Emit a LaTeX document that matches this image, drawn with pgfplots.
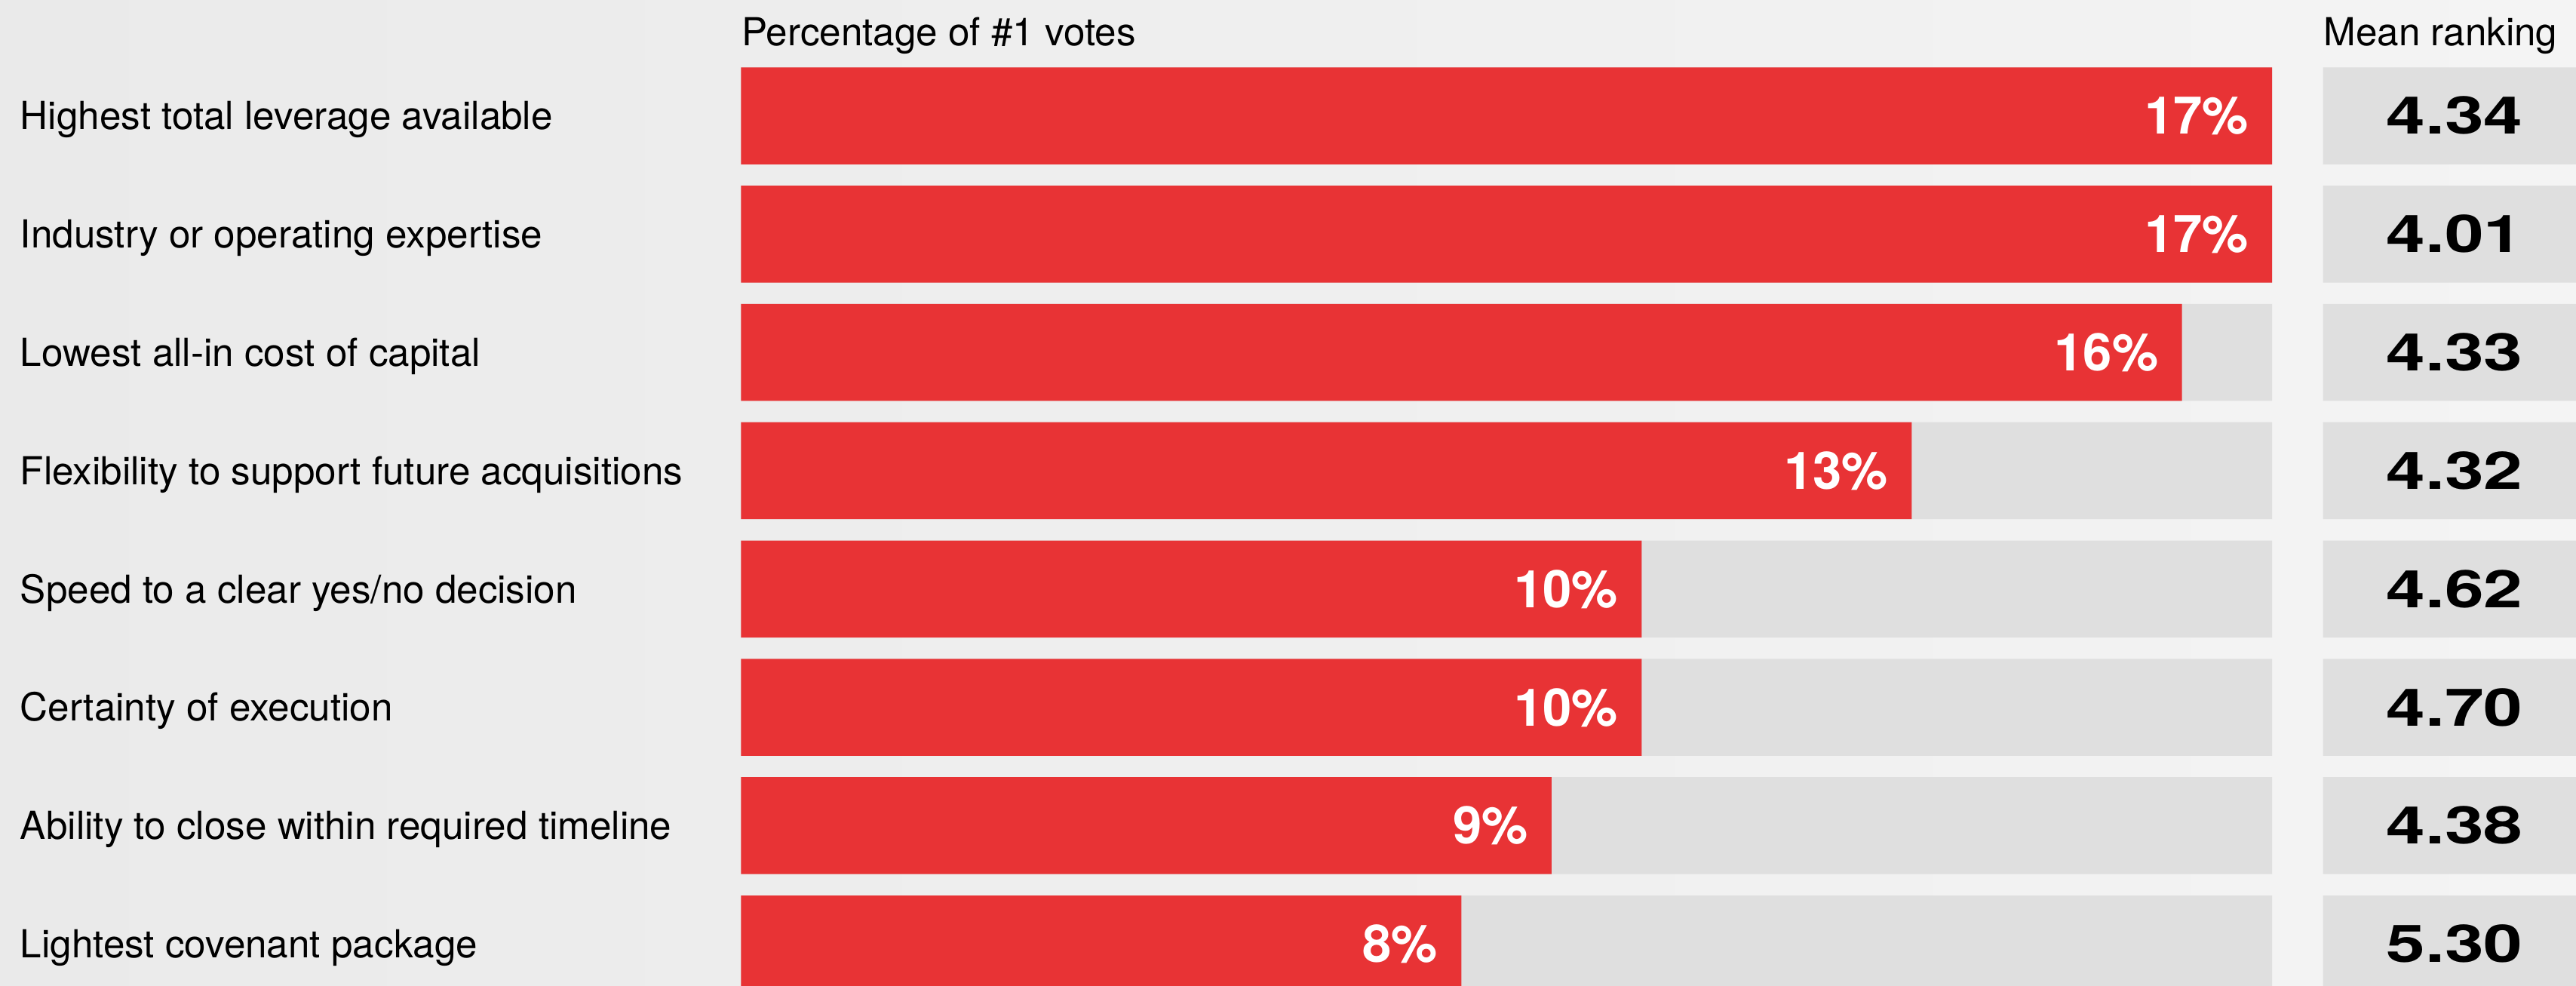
\documentclass[border=0pt]{standalone}
\usepackage{fontspec}
\setmainfont{TeX Gyre Heros}
\usepackage{graphicx}
\usepackage{pgfplots}
\pgfplotsset{compat=1.18}
\definecolor{barred}{HTML}{E83335}
\definecolor{track}{HTML}{DFDFDF}
\definecolor{bgL}{HTML}{EAEAEA}
\definecolor{bgR}{HTML}{F4F4F4}
\begin{document}
\begin{tikzpicture}
\shade[left color=bgL, right color=bgR] (0,0) rectangle (784pt,300pt);
\begin{axis}[
  at={(225.5pt,0pt)}, anchor=south west,
  scale only axis, width=466pt, height=300pt,
  xmin=0, xmax=17, ymin=-0.979, ymax=7.354, y dir=reverse,
  axis line style={draw=none}, xtick=\empty, ytick={0,...,7},
  major tick length=0pt,
  /pgf/number format/assume math mode=true,
  yticklabels={Highest total leverage available, Industry or operating expertise, Lowest all-in cost of capital, Flexibility to support future acquisitions, Speed to a clear yes/no decision, Certainty of execution, Ability to close within required timeline, Lightest covenant package},
  yticklabel style={anchor=base west, inner sep=0pt, xshift=-219.5pt, yshift=-4.2pt, font=\fontsize{11.75}{13}\selectfont},
]
\addplot[xbar, bar width=29.5pt, bar shift=0pt, fill=track, draw=none] coordinates {(17,0) (17,1) (17,2) (17,3) (17,4) (17,5) (17,6) (17,7)};
\addplot[xbar, bar width=29.5pt, bar shift=0pt, fill=barred, draw=none,
  point meta=x,
  nodes near coords={\pgfmathprintnumber{\pgfplotspointmeta}\%},
  every node near coord/.append style={anchor=base east, xshift=-7pt, yshift=-5.6pt, inner sep=0pt, text=white, font=\fontsize{15.8}{18}\selectfont\bfseries}]
  coordinates {(17,0) (17,1) (16,2) (13,3) (10,4) (10,5) (9,6) (8,7)};
\end{axis}
\begin{axis}[
  at={(707pt,0pt)}, anchor=south west,
  scale only axis, width=77pt, height=300pt,
  xmin=0, xmax=1, ymin=-0.979, ymax=7.354, y dir=reverse,
  hide axis,
]
\addplot[xbar, bar width=29.5pt, bar shift=0pt, fill=track, draw=none] coordinates {(1,0) (1,1) (1,2) (1,3) (1,4) (1,5) (1,6) (1,7)};
\addplot[draw=none, mark=none, point meta=explicit symbolic,
  nodes near coords={\scalebox{1.35}[1]{\pgfplotspointmeta}},
  every node near coord/.append style={anchor=base, yshift=-5.6pt, inner sep=0pt, text=black, font=\fontsize{15.8}{18}\selectfont\bfseries}]
  coordinates {(0.52,0)[4.34] (0.52,1)[4.01] (0.52,2)[4.33] (0.52,3)[4.32] (0.52,4)[4.62] (0.52,5)[4.70] (0.52,6)[4.38] (0.52,7)[5.30]};
\end{axis}
\node[anchor=base west, inner sep=0pt, font=\fontsize{11.75}{13}\selectfont] at (225.5pt,286pt) {Percentage of \#1 votes};
\node[anchor=base west, inner sep=0pt, font=\fontsize{11.75}{13}\selectfont] at (707pt,286pt) {Mean ranking};
\pgfresetboundingbox
\path[use as bounding box] (0,0) rectangle (784pt,300pt);
\end{tikzpicture}
\end{document}
